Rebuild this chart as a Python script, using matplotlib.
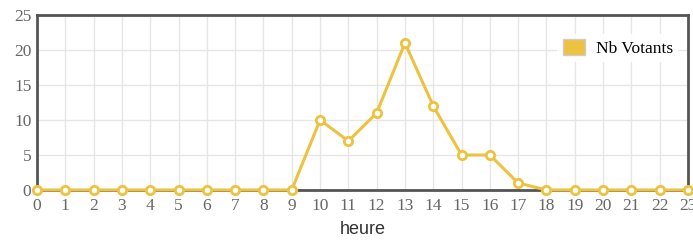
import matplotlib.pyplot as plt
from matplotlib.patches import Patch

hours = list(range(24))
votants = [0, 0, 0, 0, 0, 0, 0, 0, 0, 0, 10, 7, 11, 21, 12, 5, 5, 1, 0, 0, 0, 0, 0, 0]
series_label = "Nb Votants"
x_label = "heure"

gold = "#edc240"
tick_col = "#666666"

fig = plt.figure(figsize=(6.93, 2.44), dpi=100)
ax = fig.add_axes([37 / 693, 1 - 190 / 244, (688 - 37) / 693, (190 - 15) / 244])

ax.plot(hours, votants, color=gold, lw=2.2, marker="o", ms=6,
        mfc="white", mec=gold, mew=2, zorder=3, clip_on=False)

ax.set_xlim(0, 23)
ax.set_ylim(0, 25)
ax.set_xticks(hours)
ax.set_yticks(range(0, 26, 5))
ax.grid(True, color="#e6e6e6", lw=1)
ax.set_axisbelow(True)

for side in ax.spines.values():
    side.set_color("#555555")
    side.set_linewidth(2)

ax.tick_params(axis="x", length=0, pad=6, labelsize=12.5, colors=tick_col)
ax.tick_params(axis="y", length=0, pad=4, labelsize=12.5, colors=tick_col)
for t in ax.get_xticklabels() + ax.get_yticklabels():
    t.set_family("Liberation Serif")

ax.set_xlabel(x_label, family="Liberation Sans", fontsize=13, color="#333333", labelpad=5)

leg = ax.legend(handles=[Patch(facecolor=gold, edgecolor="#cccccc", label=series_label)],
                loc="upper right", frameon=True, fancybox=False, handlelength=1.3,
                handleheight=1.0, borderpad=0.3, handletextpad=0.6,
                prop={"family": "Liberation Serif", "size": 12.5},
                bbox_to_anchor=(0.998, 0.94))
leg.get_frame().set_edgecolor("none")
leg.get_frame().set_alpha(0.85)

fig.savefig("out.png", dpi=100)
